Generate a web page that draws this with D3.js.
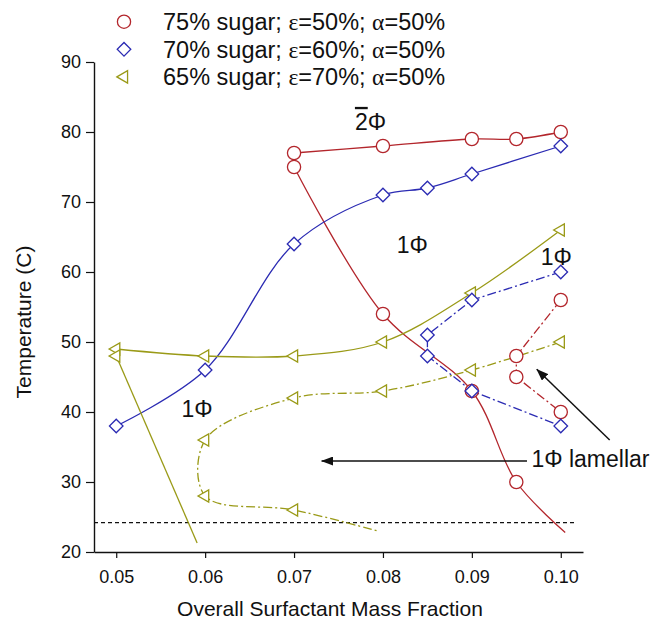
<!DOCTYPE html>
<html>
<head>
<meta charset="utf-8">
<script src="https://cdn.jsdelivr.net/npm/d3@7"></script>
<style>
  body { margin: 0; background: #fff; }
  text { font-family: "Liberation Sans", Arial, Helvetica, sans-serif; fill: #111; }
  .greek { font-family: "Liberation Serif", "DejaVu Serif", serif; }
</style>
</head>
<body>
<svg id="chart" width="655" height="626"></svg>
<script>
// ---- axis ticks ----
const xTicks = [0.05, 0.06, 0.07, 0.08, 0.09, 0.10];
const yTicks = [20, 30, 40, 50, 60, 70, 80, 90];

// ---- 75% sugar (circles) ----
const sugar75Upper = [[0.07, 77], [0.08, 78], [0.09, 79], [0.095, 79], [0.10, 80]];
const sugar75Lower = [[0.07, 75], [0.08, 54], [0.09, 43], [0.095, 30]];
const sugar75LowerTail = [0.1005, 22.8];
const sugar75Lamellar = [[0.10, 56], [0.095, 48], [0.095, 45], [0.10, 40]];

// ---- 70% sugar (diamonds) ----
const sugar70Upper = [[0.05, 38], [0.06, 46], [0.07, 64], [0.08, 71], [0.085, 72], [0.09, 74], [0.10, 78]];
const sugar70Lamellar = [[0.10, 60], [0.09, 56], [0.085, 51], [0.085, 48], [0.09, 43], [0.10, 38]];

// ---- 65% sugar (triangles) ----
const sugar65Upper = [[0.05, 49], [0.06, 48], [0.07, 48], [0.08, 50], [0.09, 57], [0.10, 66]];
const sugar65Left = [[0.05, 48]];
const sugar65LeftTail = [0.0591, 21.3];
const sugar65Lamellar = [[0.10, 50], [0.09, 46], [0.08, 43], [0.07, 42], [0.06, 36], [0.06, 28], [0.07, 26]];
const sugar65LamellarTail = [0.0794, 23.0];

// ---- reference temperature line ----
const roomTemp = 24.2;

// ---- legend ----
const legendSugar = ["75%", "70%", "65%"];
const legendEps = ["50%", "60%", "70%"];
const legendAlpha = ["50%", "50%", "50%"];

// ---- phase labels [x, y, text] ----
const phaseLabels = [
  [0.0833, 62.7, "1Φ"],
  [0.0995, 61.0, "1Φ"],
  [0.0591, 39.3, "1Φ"]
];
const twoPhaseLabel = [0.0786, 80.3];
const lamellarLabel = [0.0967, 32.1, "1Φ lamellar"];
const arrowLeft = [[0.0962, 33.0], [0.0731, 33.0]];
const arrowDiag = [[0.1055, 36.0], [0.0973, 46.1]];

const colors = { s75: "#b3262c", s70: "#2b2bb3", s65: "#9a9a17" };

const svg = d3.select("#chart");
svg.append("rect").attr("width", 655).attr("height", 626).attr("fill", "#fff");

const x = d3.scaleLinear().domain([0.0475, 0.1025]).range([94, 583]);
const y = d3.scaleLinear().domain([20, 90]).range([552, 62]);

// arrowhead
svg.append("defs").append("marker")
  .attr("id", "arrowhead")
  .attr("viewBox", "0 0 12 9")
  .attr("refX", 11.5).attr("refY", 4.5)
  .attr("markerWidth", 12).attr("markerHeight", 9)
  .attr("markerUnits", "userSpaceOnUse")
  .attr("orient", "auto")
  .append("path").attr("d", "M0,0 L12,4.5 L0,9 Z").attr("fill", "#111");

// axes
const yAxis = d3.axisLeft(y).tickValues(yTicks).tickSize(8).tickSizeOuter(0).tickPadding(5);
const xAxis = d3.axisBottom(x).tickValues(xTicks).tickSize(6).tickSizeOuter(0).tickPadding(12)
  .tickFormat(d3.format(".2f"));

const gy = svg.append("g").attr("transform", `translate(${x.range()[0]},0)`).call(yAxis);
const gx = svg.append("g").attr("transform", `translate(0,${y.range()[0]})`).call(xAxis);
[gx, gy].forEach(g => {
  g.selectAll("path.domain").attr("stroke", "#111").attr("stroke-width", 1.4);
  g.selectAll(".tick line").attr("stroke", "#111").attr("stroke-width", 1.2);
  g.selectAll(".tick text").attr("font-size", 18).attr("fill", "#111")
    .style("font-family", '"Liberation Sans", Arial, sans-serif');
});

// axis titles
svg.append("text").attr("x", 330).attr("y", 616).attr("text-anchor", "middle")
  .attr("font-size", 21).text("Overall Surfactant Mass Fraction");
svg.append("text").attr("transform", "translate(31,322) rotate(-90)").attr("text-anchor", "middle")
  .attr("font-size", 21).text("Temperature (C)");

// reference line
svg.append("line")
  .attr("x1", x.range()[0]).attr("x2", x(0.1015))
  .attr("y1", y(roomTemp)).attr("y2", y(roomTemp))
  .attr("stroke", "#111").attr("stroke-width", 1.2).attr("stroke-dasharray", "4,3");

// curves
const smooth = d3.line().x(d => x(d[0])).y(d => y(d[1])).curve(d3.curveCatmullRom.alpha(0.5));
const straight = d3.line().x(d => x(d[0])).y(d => y(d[1]));
const dashDot = "9,3,2,3";

function drawLine(data, gen, color, dash) {
  svg.append("path").attr("d", gen(data))
    .attr("fill", "none").attr("stroke", color).attr("stroke-width", 1.3)
    .attr("stroke-dasharray", dash || null);
}

drawLine(sugar75Upper, smooth, colors.s75);
drawLine(sugar75Lower.concat([sugar75LowerTail]), smooth, colors.s75);
drawLine(sugar75Lamellar, straight, colors.s75, dashDot);

drawLine(sugar70Upper, smooth, colors.s70);
drawLine(sugar70Lamellar, straight, colors.s70, dashDot);

drawLine(sugar65Upper, smooth, colors.s65);
drawLine(sugar65Left.concat([sugar65LeftTail]), straight, colors.s65);
drawLine(sugar65Lamellar.concat([sugar65LamellarTail]), smooth, colors.s65, dashDot);

// markers
const circleSym = d3.symbol().type(d3.symbolCircle).size(Math.PI * 6.6 * 6.6);
const diamondSym = d3.symbol().type(d3.symbolSquare).size(92);
const triangleSym = d3.symbol().type(d3.symbolTriangle).size(66);

function drawMarkers(data, sym, rotate, color) {
  svg.append("g").selectAll("path").data(data).join("path")
    .attr("d", sym())
    .attr("transform", d => `translate(${x(d[0])},${y(d[1])}) rotate(${rotate})`)
    .attr("fill", "#fff").attr("stroke", color).attr("stroke-width", 1.3);
}

drawMarkers(sugar65Upper.concat(sugar65Left, sugar65Lamellar), triangleSym, -90, colors.s65);
drawMarkers(sugar75Upper.concat(sugar75Lower, sugar75Lamellar), circleSym, 0, colors.s75);
drawMarkers(sugar70Upper.concat(sugar70Lamellar), diamondSym, 45, colors.s70);

// phase labels
phaseLabels.forEach(([lx, ly, t]) => {
  svg.append("text").attr("x", x(lx)).attr("y", y(ly)).attr("text-anchor", "middle")
    .attr("font-size", 23).text(t);
});
const two = svg.append("text").attr("x", x(twoPhaseLabel[0])).attr("y", y(twoPhaseLabel[1]))
  .attr("text-anchor", "middle").attr("font-size", 23);
two.append("tspan").style("text-decoration", "overline").text("2");
two.append("tspan").text("Φ");

svg.append("text").attr("x", x(lamellarLabel[0])).attr("y", y(lamellarLabel[1]))
  .attr("font-size", 23).text(lamellarLabel[2]);

[arrowLeft, arrowDiag].forEach(a => {
  svg.append("line")
    .attr("x1", x(a[0][0])).attr("y1", y(a[0][1]))
    .attr("x2", x(a[1][0])).attr("y2", y(a[1][1]))
    .attr("stroke", "#111").attr("stroke-width", 1.5)
    .attr("marker-end", "url(#arrowhead)");
});

// legend
const legendSyms = [
  { sym: circleSym, rot: 0, color: colors.s75 },
  { sym: diamondSym, rot: 45, color: colors.s70 },
  { sym: triangleSym, rot: -90, color: colors.s65 }
];
legendSugar.forEach((s, i) => {
  const cy = 21.7 + i * 27.6;
  const m = legendSyms[i];
  svg.append("path").attr("d", m.sym())
    .attr("transform", `translate(124,${cy}) rotate(${m.rot})`)
    .attr("fill", "#fff").attr("stroke", m.color).attr("stroke-width", 1.3);
  const t = svg.append("text").attr("x", 163).attr("y", cy + 8.3).attr("font-size", 23.5);
  t.append("tspan").text(`${s} sugar; `);
  t.append("tspan").attr("class", "greek").text("ε");
  t.append("tspan").text(`=${legendEps[i]}; `);
  t.append("tspan").attr("class", "greek").text("α");
  t.append("tspan").text(`=${legendAlpha[i]}`);
});
</script>
</body>
</html>
